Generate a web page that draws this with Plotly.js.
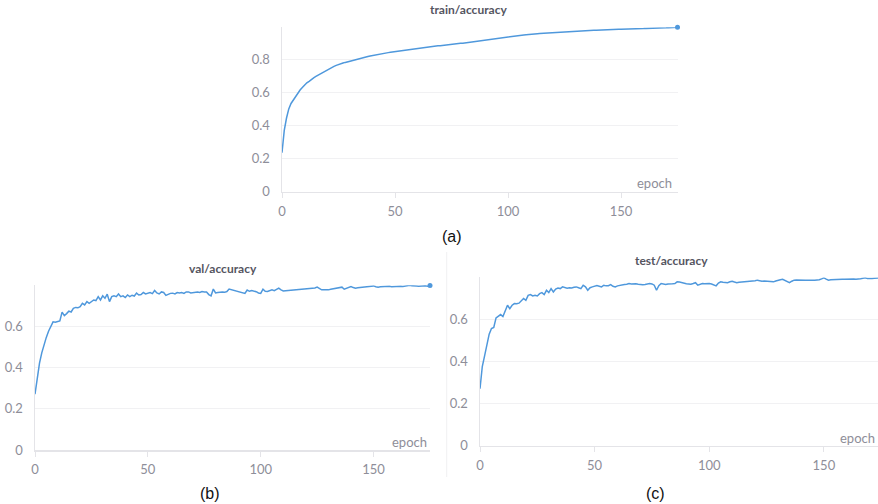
<!DOCTYPE html>
<html>
<head>
<meta charset="utf-8">
<script src="https://cdn.plot.ly/plotly-3.0.1.min.js"></script>
<style>
  html, body { margin: 0; padding: 0; background: #ffffff; }
  #chart { width: 878px; height: 504px; }
</style>
</head>
<body>
<div id="chart"></div>
<script>
// ---- data ----
const panelTitles = ["train/accuracy", "val/accuracy", "test/accuracy"];
const panelLabels = ["(a)", "(b)", "(c)"];
const xAxisLabel = "epoch";
const yTickValues = [0, 0.2, 0.4, 0.6, 0.8];
const xTickValues = [0, 50, 100, 150];

const trainAcc = [
  0.235,0.37,0.445,0.50,0.533,0.555,0.576,0.597,0.614,0.629,
  0.644,0.658,0.667,0.679,0.688,0.696,0.704,0.714,0.722,0.730,
  0.738,0.744,0.751,0.757,0.763,0.769,0.773,0.777,0.781,0.785,
  0.789,0.793,0.797,0.800,0.803,0.806,0.811,0.814,0.817,0.820,
  0.823,0.826,0.829,0.832,0.834,0.836,0.838,0.840,0.842,0.844,
  0.847,0.849,0.851,0.853,0.855,0.857,0.859,0.861,0.863,0.864,
  0.866,0.867,0.869,0.871,0.872,0.874,0.876,0.877,0.879,0.881,
  0.882,0.884,0.885,0.887,0.888,0.890,0.891,0.893,0.894,0.896,
  0.897,0.899,0.901,0.903,0.905,0.907,0.909,0.911,0.913,0.915,
  0.917,0.919,0.921,0.923,0.925,0.927,0.929,0.931,0.933,0.935,
  0.936,0.938,0.939,0.941,0.942,0.944,0.945,0.947,0.948,0.950,
  0.951,0.952,0.953,0.954,0.955,0.956,0.957,0.958,0.959,0.960,
  0.961,0.962,0.963,0.964,0.965,0.966,0.967,0.967,0.968,0.969,
  0.969,0.970,0.971,0.971,0.972,0.973,0.973,0.974,0.975,0.975,
  0.976,0.977,0.977,0.978,0.978,0.979,0.979,0.980,0.980,0.981,
  0.981,0.981,0.982,0.982,0.983,0.983,0.983,0.984,0.984,0.985,
  0.985,0.986,0.986,0.987,0.987,0.988,0.988,0.989,0.989,0.990,
  0.990,0.991,0.991,0.992,0.992,0.993
];

const valAcc = [
  0.27,0.36,0.42,0.47,0.515,0.545,0.575,0.60,0.62,0.618,
  0.621,0.625,0.667,0.65,0.66,0.672,0.668,0.686,0.69,0.688,
  0.694,0.71,0.702,0.718,0.71,0.72,0.726,0.723,0.742,0.726,
  0.746,0.734,0.754,0.718,0.742,0.746,0.742,0.755,0.742,0.746,
  0.738,0.75,0.742,0.749,0.745,0.759,0.75,0.752,0.762,0.755,
  0.759,0.762,0.757,0.772,0.76,0.755,0.765,0.762,0.748,0.754,
  0.758,0.759,0.755,0.762,0.76,0.762,0.758,0.765,0.765,0.76,
  0.762,0.764,0.765,0.762,0.767,0.765,0.765,0.752,0.746,0.779,
  0.76,0.762,0.764,0.765,0.763,0.767,0.779,0.776,0.77,0.767,
  0.764,0.762,0.759,0.758,0.774,0.768,0.772,0.77,0.766,0.76,
  0.758,0.778,0.768,0.767,0.772,0.775,0.771,0.776,0.783,0.775,
  0.77,0.771,0.772,0.772,0.774,0.774,0.775,0.776,0.777,0.778,
  0.779,0.781,0.783,0.781,0.784,0.788,0.782,0.775,0.776,0.775,
  0.775,0.778,0.78,0.779,0.782,0.784,0.788,0.778,0.782,0.786,
  0.791,0.786,0.783,0.785,0.786,0.788,0.787,0.789,0.79,0.791,
  0.794,0.79,0.788,0.79,0.791,0.79,0.791,0.792,0.79,0.791,
  0.791,0.79,0.792,0.791,0.793,0.794,0.797,0.795,0.793,0.794,
  0.793,0.794,0.794,0.795,0.793,0.796
];

const testAcc = [
  0.27,0.375,0.425,0.48,0.528,0.555,0.56,0.605,0.615,0.621,
  0.612,0.64,0.665,0.649,0.665,0.673,0.672,0.675,0.684,0.697,
  0.688,0.712,0.716,0.709,0.712,0.709,0.72,0.725,0.716,0.736,
  0.725,0.744,0.728,0.742,0.747,0.744,0.752,0.749,0.746,0.748,
  0.747,0.75,0.752,0.748,0.744,0.76,0.752,0.736,0.748,0.752,
  0.755,0.758,0.755,0.752,0.76,0.757,0.758,0.763,0.755,0.752,
  0.757,0.76,0.761,0.763,0.765,0.768,0.766,0.768,0.767,0.765,
  0.763,0.762,0.763,0.766,0.768,0.766,0.76,0.736,0.758,0.768,
  0.764,0.763,0.766,0.768,0.767,0.768,0.776,0.775,0.772,0.768,
  0.767,0.766,0.765,0.768,0.772,0.76,0.766,0.768,0.767,0.768,
  0.768,0.766,0.762,0.757,0.77,0.776,0.774,0.772,0.772,0.776,
  0.779,0.775,0.772,0.774,0.775,0.776,0.775,0.776,0.776,0.778,
  0.781,0.784,0.781,0.779,0.78,0.779,0.778,0.777,0.776,0.78,
  0.784,0.786,0.788,0.782,0.776,0.772,0.779,0.784,0.785,0.784,
  0.784,0.785,0.783,0.784,0.785,0.784,0.783,0.784,0.786,0.79,
  0.795,0.789,0.784,0.786,0.787,0.788,0.788,0.787,0.788,0.788,
  0.789,0.79,0.791,0.789,0.788,0.788,0.791,0.793,0.795,0.792,
  0.791,0.792,0.793,0.794,0.795,0.795
];

const series = [trainAcc, valAcc, testAcc];

// ---- styling / layout ----
const W = 878, H = 504;
const lineColor = "#4f98dc";
const tickColor = "#8e8e99";
const fontFam = "Lato, 'Noto Sans', sans-serif";

// pixel boxes for the three panels [left, right, bottom(y=0), top]
const boxes = [
  {l: 282, r: 677.5, b: 191.7, t: 27.3, xr: [0, 175], yr: [0, 0.993]},
  {l: 35,  r: 430,   b: 450,   t: 285.3, xr: [0, 175], yr: [0, 0.797]},
  {l: 480, r: 878,   b: 445.7, t: 277.4, xr: [0, 173.6], yr: [0, 0.797]}
];

const px = v => v / W;
const py = v => (H - v) / H;

const traces = [];
const layout = {
  width: W, height: H, autosize: false,
  margin: {l: 0, r: 0, t: 0, b: 0, pad: 0},
  paper_bgcolor: "#ffffff", plot_bgcolor: "#ffffff",
  showlegend: false,
  font: {family: fontFam, color: tickColor, size: 13},
  annotations: [],
  shapes: []
};

series.forEach((vals, i) => {
  const epochs = vals.map((_, k) => k);
  const sfx = i === 0 ? "" : String(i + 1);
  const b = boxes[i];
  traces.push({
    x: epochs, y: vals, type: "scatter", mode: "lines",
    xaxis: "x" + sfx, yaxis: "y" + sfx,
    line: {color: lineColor, width: 1.5},
    hoverinfo: "skip"
  });
  if (i < 2) {
    traces.push({
      x: [epochs[epochs.length - 1]], y: [vals[vals.length - 1]],
      type: "scatter", mode: "markers",
      xaxis: "x" + sfx, yaxis: "y" + sfx,
      marker: {color: lineColor, size: 5},
      cliponaxis: false, hoverinfo: "skip"
    });
  }
  layout["xaxis" + sfx] = {
    domain: [px(b.l), Math.min(1, px(b.r))],
    range: b.xr, anchor: "y" + sfx,
    tickvals: xTickValues, ticktext: xTickValues.map(String),
    showgrid: false, zeroline: false,
    showline: true, linecolor: "#e4e4e8", linewidth: 1.5,
    ticks: "outside", ticklen: 5, tickcolor: "#e4e4e8", tickwidth: 1,
    ticklabelstandoff: 2,
    tickfont: {family: fontFam, size: 13, color: tickColor},
    fixedrange: true
  };
  layout["yaxis" + sfx] = {
    domain: [py(b.b), py(b.t)],
    range: b.yr, anchor: "x" + sfx,
    tickvals: yTickValues, ticktext: yTickValues.map(v => v === 0 ? "0" : v.toFixed(1)),
    showgrid: true, gridcolor: "#f1f1f3", gridwidth: 1,
    zeroline: false,
    showline: true, linecolor: "#e4e4e8", linewidth: 1.5,
    ticks: "", ticklabelstandoff: 8,
    tickfont: {family: fontFam, size: 13, color: tickColor},
    fixedrange: true
  };
});

// titles
const titlePos = [[469, 9.5], [222.8, 268.3], [671, 260.7]];
titlePos.forEach((p, i) => {
  layout.annotations.push({
    text: "<b>" + panelTitles[i] + "</b>", xref: "paper", yref: "paper",
    x: px(p[0]), y: py(p[1]), xanchor: "center", yanchor: "middle",
    showarrow: false, font: {family: fontFam, size: 12, color: "#55555f"}
  });
});

// panel labels (a)(b)(c)
const labelPos = [[452, 236], [209.7, 493.7], [655, 493.3]];
labelPos.forEach((p, i) => {
  layout.annotations.push({
    text: panelLabels[i], xref: "paper", yref: "paper",
    x: px(p[0]), y: py(p[1]), xanchor: "center", yanchor: "middle",
    showarrow: false, font: {family: "'Liberation Sans', Arial, sans-serif", size: 16, color: "#111111"}
  });
});

// "epoch" axis labels inside plots
const epochPos = [[674, 183.3, "right"], [428.5, 441.7, "right"], [877, 437.7, "right"]];
epochPos.forEach(p => {
  layout.annotations.push({
    text: xAxisLabel, xref: "paper", yref: "paper",
    x: px(p[0]), y: py(p[1]), xanchor: p[2], yanchor: "middle",
    showarrow: false, font: {family: fontFam, size: 13, color: tickColor}
  });
});

// faint panel divider visible in the reference
layout.shapes.push({
  type: "line", xref: "paper", yref: "paper",
  x0: px(446.7), x1: px(446.7), y0: py(477), y1: py(252),
  line: {color: "#f0f0f2", width: 1}
});

Plotly.newPlot("chart", traces, layout, {staticPlot: true, displayModeBar: false});
</script>
</body>
</html>
